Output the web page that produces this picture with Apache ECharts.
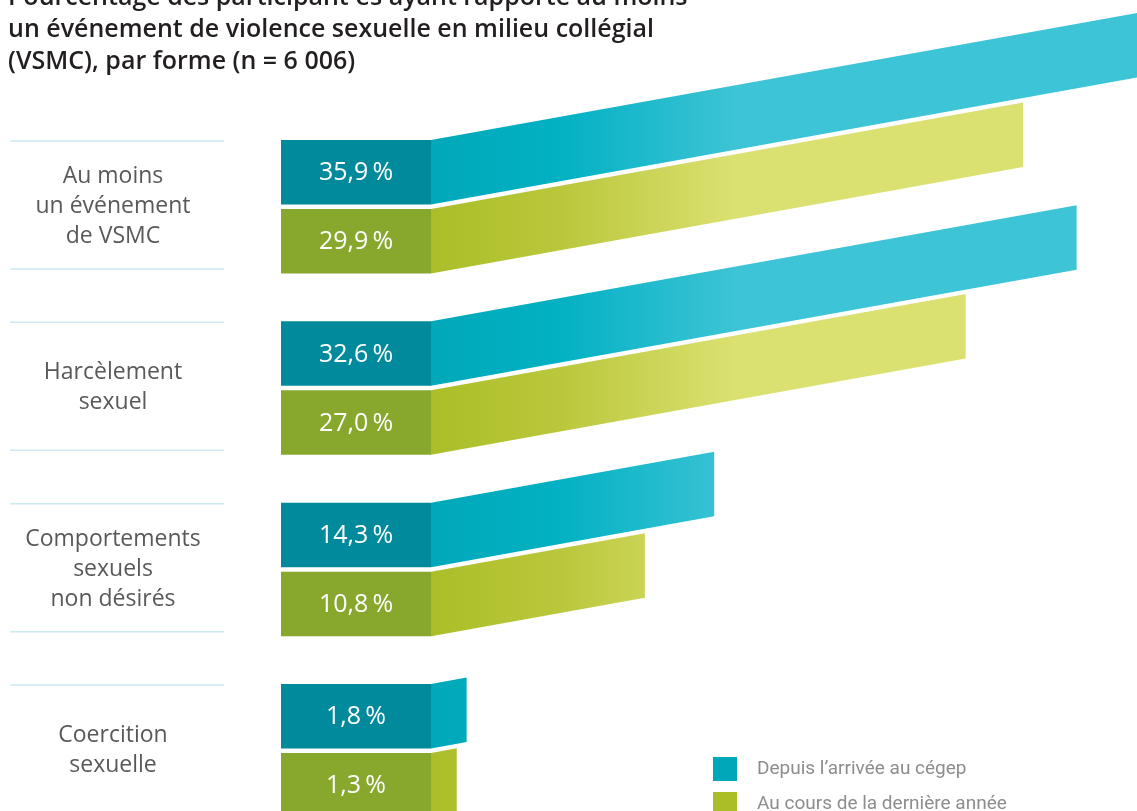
<!DOCTYPE html>
<html>
<head>
<meta charset="utf-8">
<script src="https://cdn.jsdelivr.net/npm/echarts@6/dist/echarts.min.js"></script>
<style>
html,body{margin:0;padding:0;background:#fff;}
#chart{width:1137px;height:811px;}
</style>
</head>
<body>
<div id="chart"></div>
<script>
const titleLines = [
  'Pourcentage des participant·es ayant rapporté au moins',
  'un événement de violence sexuelle en milieu collégial',
  '(VSMC), par forme (n = 6 006)'
];
const categories = [
  'Au moins\nun événement\nde VSMC',
  'Harcèlement\nsexuel',
  'Comportements\nsexuels\nnon désirés',
  'Coercition\nsexuelle'
];
const seriesNames = ['Depuis l’arrivée au cégep', 'Au cours de la dernière année'];
const depuisArrivee = [35.9, 32.6, 14.3, 1.8];
const derniereAnnee = [29.9, 27.0, 10.8, 1.3];

const chart = echarts.init(document.getElementById('chart'));

const SLOPE = 0.18;
const BOX_W = 150;
const BAR_H = 64.5;

function fmt(v) {
  return v.toFixed(1).replace('.', ',') + '\u2009%';
}

function makeRender(which) {
  const boxColor = which === 0 ? '#008a9b' : '#87a72d';
  const stops = which === 0
    ? [{offset: 0, color: '#00a8b9'}, {offset: 0.42, color: '#02b1c3'}, {offset: 1, color: '#3dc4d6'}]
    : [{offset: 0, color: '#abbe28'}, {offset: 0.42, color: '#bac73b'}, {offset: 1, color: '#dbe171'}];
  return function (params, api) {
    const v = api.value(0);
    const c = api.value(1);
    const start = api.coord([0, c]);
    const end = api.coord([v, c]);
    const x0 = start[0], x1 = end[0], yc = start[1];
    const top = which === 0 ? yc - 66.5 : yc + 2.5;
    const rise = SLOPE * (x1 - x0);
    const grad = new echarts.graphic.LinearGradient(x0, 0, x0 + 305, 0, stops, true);
    const children = [
      {
        type: 'polygon',
        shape: {points: [[x0, top], [x1, top - rise], [x1, top - rise + BAR_H], [x0, top + BAR_H]]},
        style: {fill: grad}
      },
      {
        type: 'rect',
        shape: {x: x0 - BOX_W, y: top, width: BOX_W, height: BAR_H},
        style: {fill: boxColor}
      },
      {
        type: 'text',
        x: x0 - BOX_W / 2,
        y: top + BAR_H / 2 + 1,
        style: {
          text: fmt(v),
          fill: '#ffffff',
          fontSize: 25,
          fontWeight: 400,
          fontFamily: '"Open Sans", sans-serif',
          align: 'center',
          verticalAlign: 'middle'
        }
      }
    ];
    if (which === 0) {
      children.push({
        type: 'line',
        shape: {x1: 10, y1: top + 1, x2: 224, y2: top + 1},
        style: {stroke: '#cdeaf3', lineWidth: 1.5}
      });
      children.push({
        type: 'line',
        shape: {x1: 10, y1: top + 129, x2: 224, y2: top + 129},
        style: {stroke: '#cdeaf3', lineWidth: 1.5}
      });
    }
    return {type: 'group', children: children};
  };
}

const option = {
  backgroundColor: '#ffffff',
  animation: false,
  title: {
    text: titleLines.join('\n'),
    left: 8,
    top: -18,
    padding: 0,
    textStyle: {
      fontSize: 25,
      fontWeight: 600,
      lineHeight: 32,
      color: '#231f20',
      fontFamily: '"Open Sans", sans-serif'
    }
  },
  legend: {
    orient: 'vertical',
    left: 713,
    top: 757,
    height: 80,
    padding: 0,
    itemWidth: 24,
    itemHeight: 24,
    itemGap: 11,
    icon: 'rect',
    data: seriesNames,
    textStyle: {
      fontSize: 19,
      color: '#8d8d8d',
      fontFamily: '"Roboto", sans-serif',
      padding: [0, 0, 0, 15]
    }
  },
  grid: {left: 431, top: 206.5, right: 0, bottom: 60.5, containLabel: false},
  xAxis: {
    type: 'value',
    min: 0,
    max: 35.65,
    show: false
  },
  yAxis: {
    type: 'category',
    data: categories,
    inverse: true,
    boundaryGap: false,
    axisLine: {show: false},
    axisTick: {show: false},
    splitLine: {show: false},
    axisLabel: {
      interval: 0,
      margin: 318,
      align: 'center',
      fontSize: 23,
      lineHeight: 30,
      color: '#58595b',
      fontFamily: '"Open Sans", sans-serif'
    }
  },
  series: [
    {
      name: seriesNames[0],
      type: 'custom',
      clip: false,
      itemStyle: {color: '#00a7b8'},
      encode: {x: 0, y: 1},
      data: depuisArrivee.map((v, i) => [v, i]),
      renderItem: makeRender(0)
    },
    {
      name: seriesNames[1],
      type: 'custom',
      clip: false,
      itemStyle: {color: '#abbe28'},
      encode: {x: 0, y: 1},
      data: derniereAnnee.map((v, i) => [v, i]),
      renderItem: makeRender(1)
    }
  ]
};
chart.setOption(option);
</script>
</body>
</html>
